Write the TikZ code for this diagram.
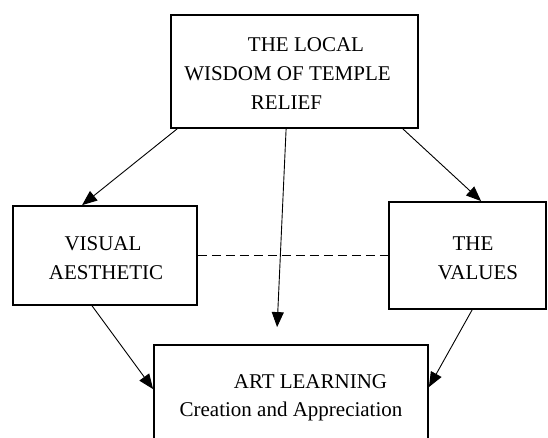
\documentclass[tikz,border=0pt]{standalone}
\usepackage{fontspec}
\setmainfont{Liberation Serif}
\usetikzlibrary{arrows.meta}
\begin{document}
\begin{tikzpicture}[x=1pt,y=-1pt,
  box/.style={draw, line width=1.8pt, rectangle, inner sep=0pt},
  lbl/.style={anchor=base, inner sep=0pt, font=\fontsize{21}{29}\selectfont},
  arr/.style={line width=0.9pt, -{Triangle[length=15pt,width=12pt]}},
  link/.style={line width=0.8pt, dashed, dash pattern=on 9pt off 5pt}]
  \useasboundingbox (0,0) rectangle (548,438);
  \clip (0,0) rectangle (548,438);

  % boxes
  \node[box, minimum width=247pt, minimum height=113pt] (top) at (294.5,71.5) {};
  \node[box, minimum width=184pt, minimum height=99pt] (visual) at (105,255.5) {};
  \node[box, minimum width=157pt, minimum height=107pt] (values) at (467.5,255.5) {};
  \node[box, minimum width=274pt, minimum height=100pt] (art) at (291,395) {};

  % labels
  \node[lbl] (t1) at (306,52) {THE LOCAL};
  \node[lbl] (t2) at (287.5,81) {WISDOM OF TEMPLE};
  \node[lbl] (t3) at (286.5,110) {RELIEF};
  \node[lbl] (v1) at (103,250) {VISUAL};
  \node[lbl] (v2) at (106,279) {AESTHETIC};
  \node[lbl] (w1) at (473,250) {THE};
  \node[lbl] (w2) at (478,279) {VALUES};
  \node[lbl] (a1) at (310.5,388) {ART LEARNING};
  \node[lbl] (a2) at (291,416) {Creation and Appreciation};

  % connectors
  \draw[arr] ([xshift=7pt]top.south west) -- ([xshift=70pt]visual.north west);
  \draw[arr] ([xshift=-16pt]top.south east) -- ([xshift=93pt]values.north west);
  \draw[arr] ([xshift=116pt]top.south west) -- ([xshift=124pt,yshift=17pt]art.north west);
  \draw[arr] ([xshift=80pt]visual.south west) -- ([yshift=-45pt]art.north west);
  \draw[arr] ([xshift=84pt]values.south west) -- ([yshift=-43pt]art.north east);
  \draw[link] (visual.east) -- (values.west);
\end{tikzpicture}
\end{document}
